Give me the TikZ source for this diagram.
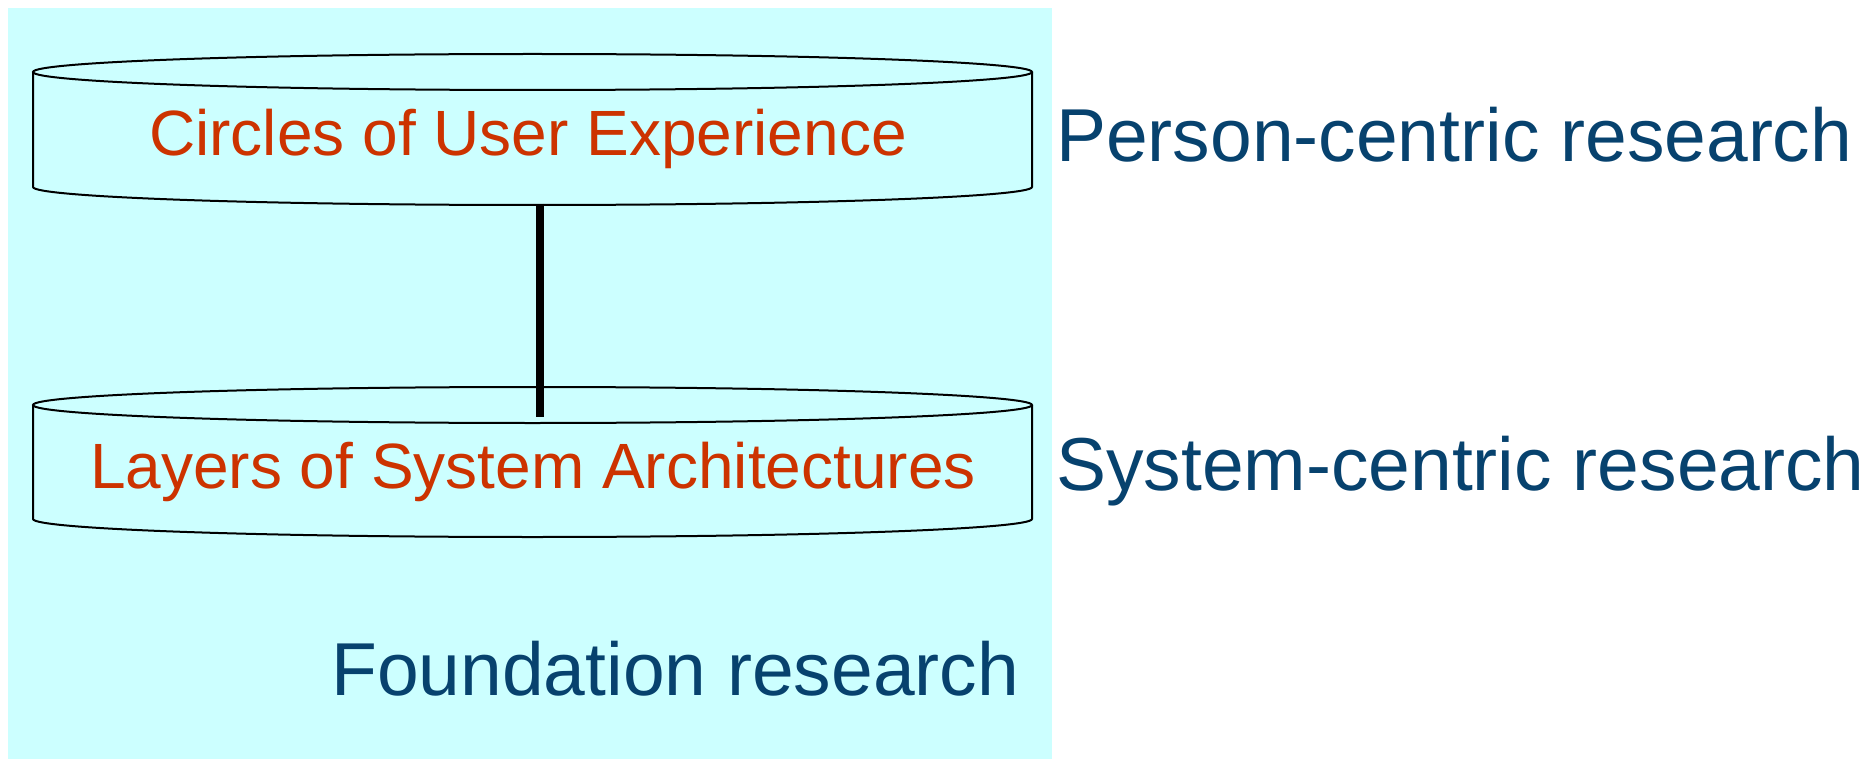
\documentclass[tikz,border=0pt]{standalone}
\usepackage{fontspec}
\setmainfont{Liberation Sans}
\definecolor{bgcyan}{HTML}{CCFFFF}
\definecolor{redtext}{HTML}{CC3300}
\definecolor{bluetext}{HTML}{07426E}
\begin{document}
\begin{tikzpicture}[x=1pt,y=-1pt,
  cyl/.style={draw=black,line width=2pt},
  redlabel/.style={text=redtext,font=\fontsize{64}{72}\selectfont,inner sep=0pt,anchor=base},
  bluelabel/.style={text=bluetext,font=\fontsize{75}{84}\selectfont,inner sep=0pt,anchor=base west},
  link/.style={draw=black,line width=8pt}]
\useasboundingbox (0,0) rectangle (1870,759);
\fill[bgcyan] (8,8) rectangle (1052,759);
% top cylinder
\draw[cyl] (532.5,72) ellipse [x radius=499.5, y radius=18];
\draw[cyl] (33,72) -- (33,187) arc[start angle=180,end angle=0,x radius=499.5,y radius=18] -- (1032,72);
% bottom cylinder
\draw[cyl] (532.5,405) ellipse [x radius=499.5, y radius=18];
\draw[cyl] (33,405) -- (33,519) arc[start angle=180,end angle=0,x radius=499.5,y radius=18] -- (1032,405);
\coordinate (topend) at (540,204);
\coordinate (botend) at (540,417);
\draw[link] (topend) -- (botend);
\node[redlabel] (circles) at (528,156) {Circles of User Experience};
\node[redlabel] (layers) at (533,488) {Layers of System Architectures};
\node[bluelabel] (person) at (1056,162) {Person-centric research};
\node[bluelabel] (system) at (1056,490) {System-centric research};
\node[bluelabel] (found) at (331,695) {Foundation research};
\end{tikzpicture}
\end{document}
